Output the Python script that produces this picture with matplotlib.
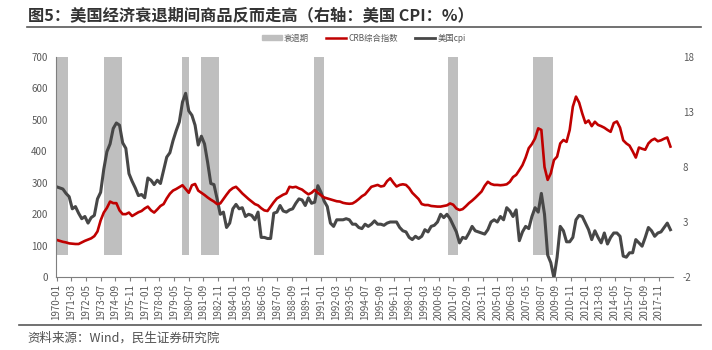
import numpy as np
import pandas as pd
import matplotlib
matplotlib.use("Agg")
import matplotlib.pyplot as plt
from matplotlib.lines import Line2D
from matplotlib.patches import Patch

plt.rcParams['font.family'] = ['Noto Sans CJK SC', 'DejaVu Sans']
plt.rcParams['axes.unicode_minus'] = False

# monthly axis 1970-01 .. 2018-12, values read at Jan/Apr/Jul/Oct
months = pd.period_range('1970-01', '2018-12', freq='M')

crb = [118, 115, 112, 110,
       107, 106, 105, 105,
       110, 115, 119, 123,
       130, 145, 180, 205,
       220, 240, 235, 235,
       212, 200, 200, 205,
       194, 200, 206, 210,
       218, 224, 212, 205,
       215, 226, 232, 250,
       265, 275, 280, 286,
       292, 280, 268, 292,
       296, 275, 268, 261,
       253, 246, 240, 232,
       234, 248, 262, 275,
       283, 287, 277, 266,
       257, 248, 240, 232,
       228, 219, 212, 210,
       224, 238, 250, 256,
       262, 266, 287, 285,
       287, 282, 278, 270,
       263, 268, 277, 268,
       260, 253, 250, 247,
       244, 241, 240, 236,
       234, 233, 234, 240,
       248, 257, 263, 275,
       287, 290, 293, 288,
       290, 305, 314, 300,
       288, 293, 295, 293,
       283, 268, 258, 248,
       232, 229, 229, 226,
       225, 224, 224, 226,
       228, 234, 230, 218,
       213, 216, 225, 235,
       243, 252, 262, 272,
       290, 303, 296, 293,
       293, 292, 293, 295,
       303, 318, 325, 340,
       356, 380, 410, 423,
       441, 473, 468, 350,
       309, 330, 372, 383,
       425, 436, 430, 468,
       542, 574, 555, 520,
       490, 498, 480, 494,
       484, 480, 475, 468,
       462, 490, 495, 475,
       435, 425, 418, 400,
       380, 412, 408, 405,
       425, 435, 440, 432,
       435, 440, 444, 415]

cpi = [6.2, 6.1, 6.0, 5.6,
       5.3, 4.2, 4.4, 3.8,
       3.3, 3.5, 2.9, 3.4,
       3.6, 5.1, 5.7, 7.8,
       9.4, 10.1, 11.5, 12.0,
       11.8, 10.2, 9.7, 7.4,
       6.7, 6.1, 5.4, 5.5,
       5.2, 7.0, 6.8, 6.4,
       6.8, 6.5, 7.7, 8.9,
       9.3, 10.4, 11.3, 12.1,
       13.9, 14.7, 13.1, 12.7,
       11.8, 10.0, 10.8, 10.1,
       8.4, 6.5, 6.4, 5.1,
       3.7, 3.9, 2.5, 2.9,
       4.2, 4.6, 4.2, 4.3,
       3.5, 3.7, 3.6, 3.2,
       3.9, 1.6, 1.6, 1.5,
       1.5, 3.8, 3.9, 4.5,
       4.0, 3.9, 4.1, 4.2,
       4.7, 5.1, 5.0, 4.5,
       5.2, 4.7, 4.8, 6.3,
       5.7, 4.9, 4.4, 2.9,
       2.6, 3.2, 3.2, 3.2,
       3.3, 3.2, 2.8, 2.8,
       2.5, 2.4, 2.8, 2.6,
       2.8, 3.1, 2.8, 2.8,
       2.7, 2.9, 3.0, 3.0,
       3.0, 2.5, 2.2, 2.1,
       1.6, 1.4, 1.7, 1.5,
       1.7, 2.3, 2.1, 2.6,
       2.7, 3.0, 3.7, 3.4,
       3.7, 3.3, 2.7, 2.1,
       1.1, 1.6, 1.5, 2.0,
       2.6, 2.2, 2.1, 2.0,
       1.9, 2.3, 3.0, 3.2,
       3.0, 3.5, 3.2, 4.3,
       4.0, 3.5, 4.1, 1.3,
       2.1, 2.6, 2.4, 3.5,
       4.3, 3.9, 5.6, 3.7,
       0.0, -0.7, -2.1, -0.2,
       2.6, 2.2, 1.2, 1.2,
       1.6, 3.2, 3.6, 3.5,
       2.9, 2.3, 1.4, 2.2,
       1.6, 1.1, 2.0, 1.0,
       1.6, 2.0, 2.0, 1.7,
       -0.1, -0.2, 0.2, 0.2,
       1.4, 1.1, 0.8, 1.6,
       2.5, 2.2, 1.7, 2.0,
       2.1, 2.5, 2.9, 2.3]

recessions = [('1970-01', '1970-11'), ('1973-11', '1975-03'), ('1980-01', '1980-07'),
              ('1981-07', '1982-11'), ('1990-07', '1991-03'), ('2001-03', '2001-11'),
              ('2007-12', '2009-06')]
recession_top = 18

start = months[0]
x_sample = np.arange(0, len(months), 3)[:len(cpi)]
rec_x = []
for a, b in recessions:
    a_i = (pd.Period(a, 'M') - start).n
    b_i = (pd.Period(b, 'M') - start).n
    rec_x.extend(range(a_i, b_i + 1))

fig = plt.figure(figsize=(7.12, 3.5), dpi=100)
ax1 = fig.add_axes([0.0787, 0.2086, 0.8666, 0.6285])
ax2 = ax1.twinx()
ax1.set_zorder(ax2.get_zorder() + 1)
ax1.patch.set_visible(False)

txt_col = '#595959'
ax2.bar(rec_x, [recession_top] * len(rec_x), width=1.0, color='#BFBFBF', linewidth=0)
ax2.plot(x_sample, cpi, color='#474747', lw=2.2)
ax1.plot(x_sample, crb, color='#C00000', lw=1.9)

ax1.set_xlim(-0.5, 587.5)
ax1.set_ylim(0, 700)
ax1.set_yticks(range(0, 701, 100))
ax2.set_ylim(-2, 18)
ax2.set_yticks([-2, 3, 8, 13, 18])

ticks = list(range(0, len(months), 14))
ax1.set_xticks(ticks)
ax1.set_xticklabels([months[i].strftime('%Y-%m') for i in ticks], rotation=90)

for ax in (ax1, ax2):
    for s in ('top', 'right'):
        ax.spines[s].set_visible(False)
    ax.tick_params(labelsize=7, colors=txt_col, length=0)
ax2.spines['left'].set_visible(False)
ax2.spines['bottom'].set_visible(False)
ax1.spines['left'].set_color('#7F7F7F')
ax1.spines['bottom'].set_color('#7F7F7F')
ax1.tick_params(axis='x', length=3, color='#7F7F7F', pad=2)
ax1.tick_params(axis='y', pad=6)
ax2.tick_params(axis='y', pad=7)

handles = [Patch(color='#BFBFBF'),
           Line2D([], [], color='#C00000', lw=1.8),
           Line2D([], [], color='#474747', lw=2)]
fig.legend(handles, ['衰退期', 'CRB综合指数', '美国cpi'], loc='center', ncol=3,
           bbox_to_anchor=(0.5105, 0.891), frameon=False, fontsize=6, labelcolor=txt_col,
           handlelength=2.4, handleheight=0.6, columnspacing=2.0, handletextpad=0.3)

fig.text(0.039, 0.957, '图5：美国经济衰退期间商品反而走高（右轴：美国 CPI：%）',
         fontsize=11.7, fontweight='bold', color='#333333', va='center')
fig.add_artist(Line2D([0.038, 0.985], [0.922, 0.922], color='#595959', lw=1.2))
fig.add_artist(Line2D([0.027, 0.985], [0.071, 0.071], color='#595959', lw=1.2))
fig.text(0.039, 0.034, '资料来源：Wind，民生证券研究院', fontsize=9, color='#505050', va='center')

fig.savefig('out.png', dpi=100)
